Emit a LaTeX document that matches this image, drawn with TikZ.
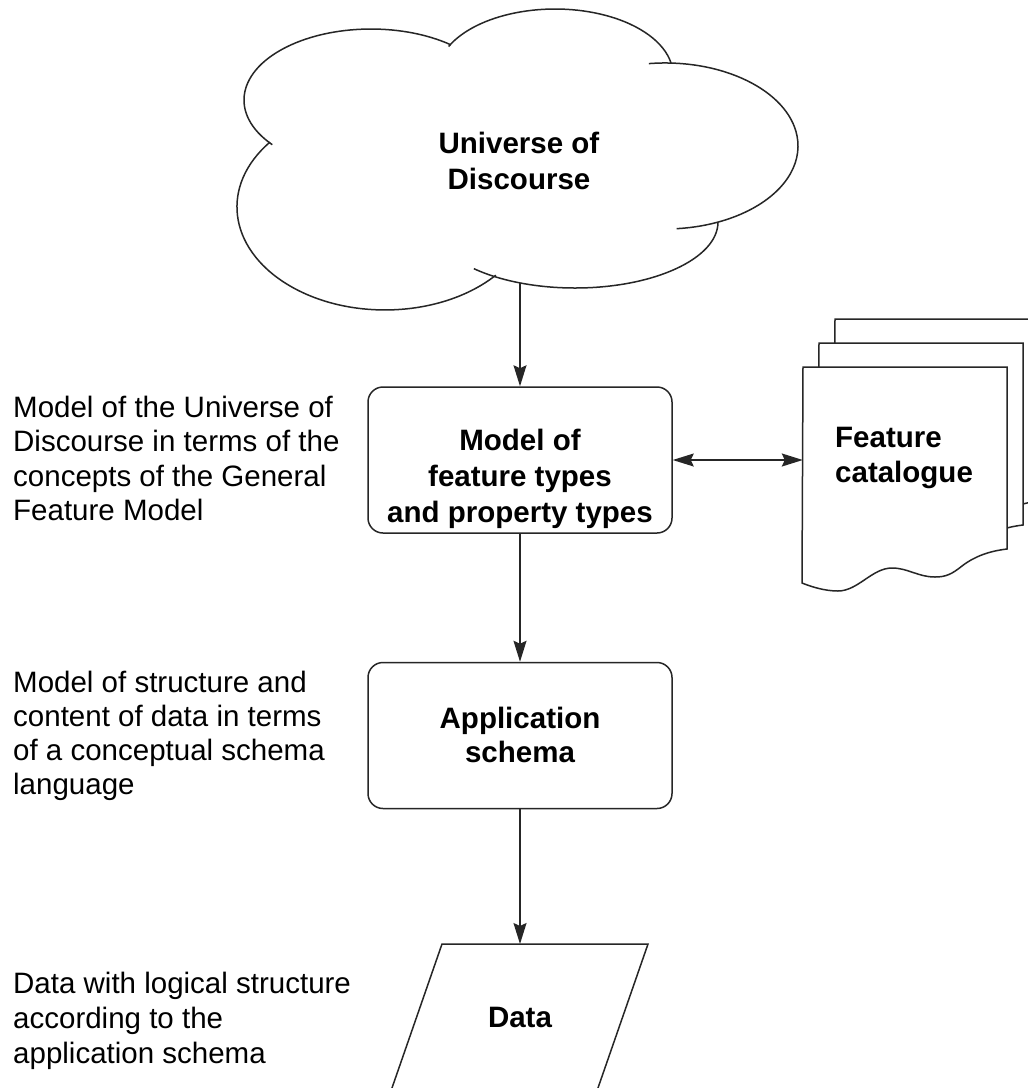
\documentclass[tikz,border=0pt]{standalone}
\usepackage{fontspec}
\setmainfont{Liberation Sans}
\usetikzlibrary{arrows.meta}
\newcommand\lefttab[1]{\begin{tabular}[t]{@{}l@{}}#1\end{tabular}}
\newcommand\centtab[1]{\begin{tabular}[t]{@{}c@{}}#1\end{tabular}}
\begin{document}
\begin{tikzpicture}[x=1pt,y=-1pt,
  ln/.style={line width=1.5pt, draw=black!85},
  arr/.style={ln, -{Stealth[length=21pt,width=13pt,inset=3pt]}},
  darr/.style={ln, {Stealth[length=21pt,width=13pt,inset=3pt]}-{Stealth[length=21pt,width=13pt,inset=3pt]}},
  procbox/.style={ln, rounded corners=15pt, minimum width=304pt, minimum height=146pt, inner sep=0pt},
  page/.style={ln, fill=white},
  lbl/.style={inner sep=0pt, anchor=base west, font=\fontsize{29.5}{34.5}\selectfont},
  clbl/.style={inner sep=0pt, anchor=base, font=\bfseries\fontsize{29.5}{36}\selectfont},
]
\fill[white] (0,0) rectangle (1028,1088);
\clip (0,0) rectangle (1028,1088);

% cloud (universe of discourse)
\draw[ln] (272.3,144.7) arc[start angle=141, end angle=309, x radius=127, y radius=71];
\draw[ln] (448.6,46.5) arc[start angle=205.6, end angle=349.5, x radius=118, y radius=66];
\draw[ln] (648.8,63.6) arc[start angle=-97, end angle=85, x radius=133, y radius=83];
\draw[ln] (718,222) arc[start angle=0, end angle=135, x radius=143, y radius=66];
\draw[ln] (495.8,275.2) arc[start angle=41.5, end angle=219, x radius=148, y radius=103];
\node[clbl] (uod) at (519,153) {\centtab{Universe of\\Discourse}};
\coordinate (cb) at (520,283);

% process boxes
\node[procbox] (mft) at (520,460) {};
\node[clbl] (mftt) at (520,450) {\centtab{Model of\\feature types\\and property types}};
\node[procbox] (appl) at (520,735.5) {};
\node[clbl, font=\bfseries\fontsize{29.5}{34}\selectfont] (applt) at (520,728) {\centtab{Application\\schema}};

% data
\draw[ln] (442,944) -- (648,944) -- (593.8,1100) -- (387.8,1100) -- cycle;
\node[clbl] (data) at (520,1027) {Data};
\coordinate (dtop) at (520,944);

% feature catalogue (stack of documents)
\def\pagepath{(803,367) -- (1007,367) -- (1007,549)
  .. controls (990,551) and (975,556) .. (962,566)
  .. controls (952,574) and (946,577) .. (935,577)
  .. controls (918,577) and (908,568) .. (892,568)
  .. controls (872,568) and (858,591) .. (838,591)
  .. controls (825,591) and (812,587) .. (802,583) -- cycle}
\path[page, shift={(32,-48)}] \pagepath;
\path[page, shift={(16,-24)}] \pagepath;
\path[page] \pagepath;
\node[inner sep=0pt, minimum width=204pt, minimum height=186pt] (fc) at (905,460) {};
\node[clbl, anchor=base west, font=\bfseries\fontsize{29.5}{35}\selectfont] (fct) at (835,447) {\lefttab{Feature\\catalogue}};

% connectors
\draw[arr] (cb) -- (mft.north);
\draw[darr] (mft.east) -- (fc.west);
\draw[arr] (mft.south) -- (appl.north);
\draw[arr] (appl.south) -- (dtop);

% left descriptions
\node[lbl] (d1) at (13,417) {\lefttab{Model of the Universe of\\Discourse in terms of the\\concepts of the General\\Feature Model}};
\node[lbl, font=\fontsize{29.5}{34}\selectfont] (d2) at (13,692) {\lefttab{Model of structure and\\content of data in terms\\of a conceptual schema\\language}};
\node[lbl, font=\fontsize{29.5}{35}\selectfont] (d3) at (13,993) {\lefttab{Data with logical structure\\according to the\\application schema}};
\end{tikzpicture}
\end{document}
